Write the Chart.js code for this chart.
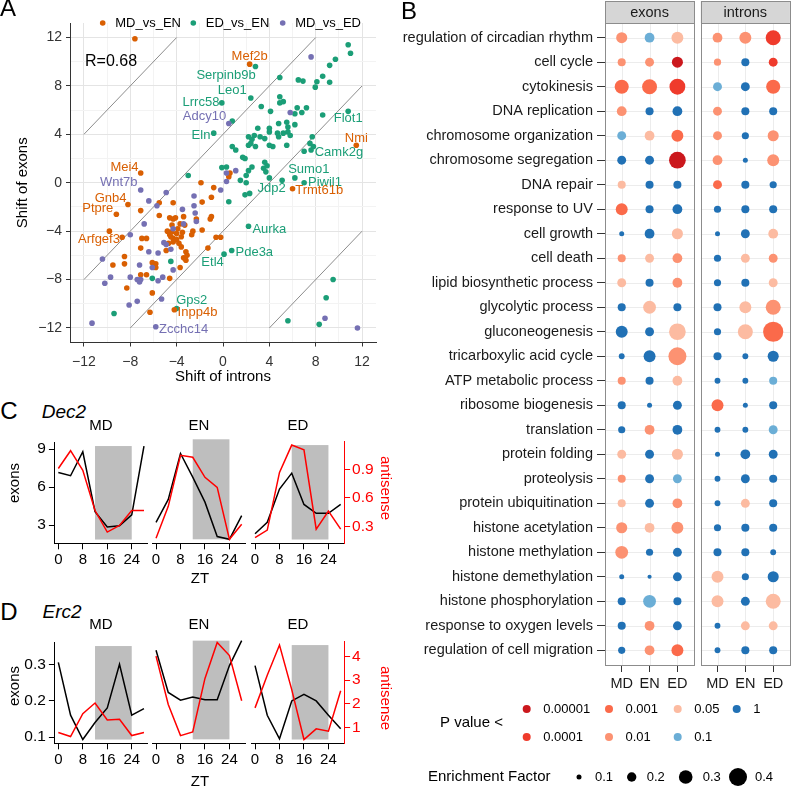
<!DOCTYPE html>
<html>
<head>
<meta charset="utf-8">
<script src="https://cdn.jsdelivr.net/npm/chart.js@4.4.1/dist/chart.umd.min.js"></script>
<style>
body { margin: 0; background: #fff; }
#page { position: relative; width: 800px; height: 788px; overflow: hidden; font-family: "Liberation Sans", Arial, Helvetica, sans-serif; }
canvas { position: absolute; }
.lbl { position: absolute; white-space: nowrap; line-height: 1; color: #000; }
</style>
</head>
<body>
<div id="page">
  <canvas id="scatterA" width="390" height="395" style="left:0;top:0"></canvas>
  <canvas id="dotB" width="420" height="788" style="left:380px;top:0"></canvas>
  <canvas id="cMD" width="395" height="145" style="left:0;top:430px"></canvas>
  <canvas id="cEN" width="395" height="145" style="left:0;top:430px"></canvas>
  <canvas id="cED" width="395" height="145" style="left:0;top:430px"></canvas>
  <canvas id="dMD" width="395" height="145" style="left:0;top:630px"></canvas>
  <canvas id="dEN" width="395" height="145" style="left:0;top:630px"></canvas>
  <canvas id="dED" width="395" height="145" style="left:0;top:630px"></canvas>
</div>
<script>
// ---------- panel A : shift of exons vs shift of introns ----------
const mdVsEn = [
  [-7.6,11.9],[2.3,9.8],[11.5,3.1],[-7.1,0.8],[6.0,-0.5],[0.6,0.8],[0.5,0.5],
  [-1.9,0.0],[-0.8,-0.4],[-1.0,-1.2],[-1.8,-1.6],[-4.3,-1.65],[-5.5,-1.65],[-8.2,-1.8],
  [-7.1,-2.3],[-9.2,-2.6],[-5.5,-2.7],[-4.6,-2.9],[-4.1,-2.9],[-4.3,-3.0],[-3.4,-2.8],
  [-2.3,-3.0],[-1.0,-2.8],[-1.1,-3.0],[-4.8,-4.0],[-4.4,-4.05],[-4.0,-4.2],[-4.3,-4.6],
  [-4.0,-4.7],[-3.6,-4.46],[-4.5,-4.46],[-4.3,-4.9],[-4.7,-5.0],[-3.8,-5.0],[-3.6,-5.3],
  [-2.6,-4.0],[-2.7,-4.3],[-3.7,-3.4],[-3.3,-3.5],[-4.4,-3.5],[-3.9,-3.8],[-4.6,-4.3],
  [-3.5,-4.1],[-1.8,-3.9],[-1.3,-5.4],[-0.6,-4.5],[-0.2,-4.5],[-7.0,-4.6],[-6.6,-4.6],
  [-8.7,-4.5],[-9.8,-4.0],[-7.1,-5.4],[-4.9,-5.6],[-3.2,-5.7],[-3.1,-6.0],[-3.4,-6.2],
  [-3.2,-6.4],[-8.5,-6.1],[-8.5,-6.7],[-9.5,-6.8],[-6.1,-6.6],[-5.8,-6.7],[-5.9,-6.9],
  [-5.8,-7.0],[-3.7,-7.0],[-4.6,-7.9],[-7.1,-7.6],[-6.6,-7.6],[-8.3,-8.7],[-6.1,-9.1],
  [-6.3,-10.7],[-4.2,-10.5]
];
const edVsEn = [
  [10.8,11.4],[11.0,10.7],[9.7,10.2],[9.2,9.7],[2.8,9.6],[4.9,8.7],[6.5,8.5],[6.9,8.4],
  [8.1,8.35],[8.6,8.8],[9.2,8.3],[7.96,7.9],[2.4,7.0],[4.9,7.1],[5.2,6.7],[4.9,6.6],
  [3.3,6.3],[4.1,5.9],[6.4,6.2],[7.2,6.2],[6.8,5.8],[6.2,5.7],[8.6,5.6],[10.8,5.9],
  [4.8,4.9],[4.0,4.5],[4.0,4.2],[3.0,4.5],[5.5,5.0],[5.6,4.6],[6.2,4.8],[2.7,3.9],
  [2.2,3.8],[2.5,3.6],[3.2,3.8],[3.6,3.65],[4.7,4.1],[5.2,4.1],[5.6,4.2],[5.8,3.9],
  [4.8,3.8],[2.4,3.25],[2.2,3.1],[4.0,3.1],[4.3,3.0],[0.8,3.0],[1.1,2.7],[2.8,3.0],
  [5.5,3.1],[7.7,3.8],[7.5,3.25],[7.8,3.0],[7.0,2.6],[7.6,2.7],[1.7,2.1],[1.9,2.0],
  [2.5,1.3],[2.2,1.0],[3.6,1.7],[3.8,1.4],[3.5,1.2],[3.7,0.9],[0.3,1.3],[2.0,0.6],
  [1.5,0.2],[2.0,0.0],[4.0,0.4],[5.1,0.2],[6.2,0.4],[7.0,0.0],[-3.0,0.6],[-0.1,6.6],
  [0.8,5.1],[-0.8,4.1],[-0.1,1.25],[1.9,-1.0],[2.3,-0.88],[0.5,-1.57],[2.2,-3.6],
  [0.75,-5.6],[0.09,-5.9],[-4.5,-6.5],[-6.1,-7.9],[-9.4,-10.8],[-4.0,-10.4],[9.5,-8.0],
  [8.9,-9.5],[5.6,-11.4],[8.3,-11.7]
];
const mdVsEd = [
  [7.6,10.4],[0.5,4.9],[5.8,5.8],[-7.1,-0.6],[-4.9,-0.8],[-6.4,-1.5],[-5.7,-1.9],
  [-2.5,-1.1],[-2.5,-1.9],[-2.4,-2.5],[-3.5,-2.2],[-2.3,-3.2],[-3.4,-3.4],[-4.3,-3.8],
  [-6.8,-3.4],[-8.0,-4.3],[-5.1,-4.95],[-4.9,-5.1],[-4.5,-5.5],[-5.6,-5.8],[-6.4,-5.7],
  [-7.2,-6.8],[-6.1,-7.0],[-10.4,-6.3],[-9.7,-7.8],[-10.2,-8.3],[-8.0,-7.8],[-7.4,-8.0],
  [-7.2,-8.2],[-7.1,-8.0],[-5.6,-8.1],[-5.2,-7.8],[-4.3,-7.2],[-7.4,-9.8],[-8.1,-10.1],
  [-5.3,-9.6],[-11.3,-11.6],[-5.8,-11.9],[8.8,-11.2],[11.6,-12.0],[-0.2,-0.6],[0.3,0.1],
  [0.3,0.8],[1.1,1.0]
];
// guide lines y = x + 16, x + 4, x - 4, x - 16
const refLines = [
  [[-12,4],[-4,12]],
  [[-12,-8],[8,12]],
  [[-8,-12],[12,8]],
  [[4,-12],[12,-4]]
];
const groupNames = ['MD_vs_EN', 'ED_vs_EN', 'MD_vs_ED'];
const groupColors = ['#d95f02', '#1b9e77', '#7570b3'];
const correlationR = '0.68';
// labelled genes: text centre in data units, group index
const geneNames  = ['Mef2b','Serpinb9b','Leo1','Lrrc58','Adcy10','Eln','Flot1','Nmi','Camk2g','Sumo1','Piwil1','Jdp2','Trmt61b','Mei4','Wnt7b','Gnb4','Ptpre','Arfgef3','Aurka','Pde3a','Etl4','Gps2','Inpp4b','Zcchc14'];
const geneGroup  = [0,1,1,1,2,1,1,0,1,1,1,1,0,0,2,0,0,0,1,1,1,1,0,2];
const geneLabelX = [2.3,0.26,0.8,-1.9,-1.6,-1.9,10.8,11.5,10.0,7.4,8.8,4.2,8.3,-8.5,-9.0,-9.7,-10.8,-10.7,4.0,2.7,-0.9,-2.7,-2.2,-3.4];
const geneLabelY = [10.4,8.9,7.6,6.6,5.45,3.9,5.3,3.7,2.5,1.1,0.03,-0.46,-0.6,1.3,0.0,-1.3,-2.1,-4.65,-3.85,-5.75,-6.6,-9.75,-10.7,-12.1];

// ---------- panel B : GO enrichment ----------
const goTerms = ['regulation of circadian rhythm','cell cycle','cytokinesis','DNA replication','chromosome organization','chromosome segregation','DNA repair','response to UV','cell growth','cell death','lipid biosynthetic process','glycolytic process','gluconeogenesis','tricarboxylic acid cycle','ATP metabolic process','ribosome biogenesis','translation','protein folding','proteolysis','protein ubiquitination','histone acetylation','histone methylation','histone demethylation','histone phosphorylation','response to oxygen levels','regulation of cell migration'];
const conditions = ['MD', 'EN', 'ED'];
const facetNames = ['exons', 'introns'];
const pBreaks = ['0.00001', '0.0001', '0.001', '0.01', '0.05', '0.1', '1'];
const pColors = ['#cb181d', '#ef3b2c', '#fb6a4a', '#fc9272', '#fcbba1', '#6baed6', '#2171b5'];
const efBreaks = [0.1, 0.2, 0.3, 0.4];
// columns: exons MD, EN, ED, introns MD, EN, ED ; value = index into pBreaks
const pLevel = [
  [3,5,4,3,3,1],[3,3,0,3,6,1],[2,2,1,5,6,2],[3,6,6,3,6,6],[5,4,2,3,6,3],
  [6,6,0,3,6,3],[4,6,6,2,6,6],[2,6,6,6,6,6],[6,6,4,6,6,4],[3,4,3,6,4,3],
  [4,6,3,6,6,4],[6,4,6,6,4,3],[6,6,4,6,4,2],[6,6,3,6,6,6],[3,6,4,6,6,5],
  [6,6,6,2,6,6],[6,3,6,6,6,5],[4,6,4,6,6,6],[3,6,5,6,6,6],[4,6,3,6,4,6],
  [3,4,3,6,6,6],[3,6,6,6,6,6],[6,6,6,4,6,6],[6,5,6,4,6,4],[6,3,6,6,4,4],
  [6,3,2,6,6,6]
];
const enrichment = [
  [0.24,0.21,0.26,0.21,0.26,0.33],[0.17,0.19,0.24,0.15,0.17,0.19],[0.31,0.33,0.35,0.19,0.19,0.31],
  [0.21,0.17,0.21,0.19,0.17,0.17],[0.19,0.21,0.26,0.19,0.15,0.24],[0.19,0.19,0.37,0.21,0.10,0.26],
  [0.17,0.17,0.17,0.19,0.17,0.15],[0.26,0.17,0.21,0.15,0.17,0.17],[0.10,0.21,0.24,0.10,0.19,0.21],
  [0.17,0.19,0.21,0.15,0.19,0.19],[0.19,0.17,0.21,0.15,0.17,0.19],[0.17,0.28,0.17,0.17,0.26,0.33],
  [0.26,0.19,0.37,0.15,0.33,0.45],[0.12,0.26,0.40,0.17,0.12,0.24],[0.17,0.17,0.21,0.12,0.12,0.17],
  [0.17,0.10,0.19,0.26,0.10,0.17],[0.15,0.21,0.21,0.12,0.12,0.19],[0.19,0.19,0.24,0.10,0.21,0.19],
  [0.17,0.19,0.19,0.12,0.19,0.17],[0.17,0.19,0.21,0.12,0.19,0.17],[0.24,0.21,0.26,0.15,0.17,0.17],
  [0.28,0.15,0.19,0.17,0.17,0.12],[0.10,0.08,0.19,0.26,0.15,0.24],[0.17,0.28,0.17,0.26,0.19,0.33],
  [0.17,0.21,0.19,0.12,0.19,0.19],[0.15,0.21,0.26,0.12,0.17,0.17]
];

// ---------- panels C and D : time courses ----------
const zt = [0, 4, 8, 12, 16, 20, 24, 28];
const ztTicks = [0, 8, 16, 24];
const nightStart = 12, nightEnd = 24;
const dec2ExonsMD = [7.15, 6.9, 8.8, 4.05, 2.85, 2.95, 3.8, 9.25];
const dec2ExonsEN = [3.1, 4.8, 8.2, 6.45, 4.6, 2.05, 1.85, 3.6];
const dec2ExonsED = [2.3, 3.2, 5.8, 7.05, 4.6, 3.9, 3.9, 4.6];
const dec2AntisenseMD = [0.92, 1.11, 0.9, 0.47, 0.24, 0.31, 0.47, 0.47];
const dec2AntisenseEN = [0.17, 0.49, 1.0, 0.98, 0.78, 0.68, 0.16, 0.31];
const dec2AntisenseED = [0.18, 0.26, 0.87, 1.16, 1.11, 0.27, 0.46, 0.27];
const dec2ExonTicks = [3, 6, 9];
const dec2AntisenseTicks = [0.3, 0.6, 0.9];
const erc2ExonsMD = [0.305, 0.16, 0.093, 0.14, 0.18, 0.3, 0.16, 0.178];
const erc2ExonsEN = [0.325, 0.215, 0.195, 0.203, 0.196, 0.196, 0.285, 0.35];
const erc2ExonsED = [0.294, 0.159, 0.095, 0.198, 0.216, 0.198, 0.159, 0.122];
const erc2AntisenseMD = [0.8, 0.63, 1.6, 2.05, 1.33, 1.36, 0.67, 0.8];
const erc2AntisenseEN = [3.85, 1.9, 0.65, 0.8, 2.95, 4.4, 3.87, 2.05];
const erc2AntisenseED = [1.83, 3.2, 4.47, 2.6, 0.5, 0.95, 0.85, 2.55];
const erc2ExonTicks = [0.1, 0.2, 0.3];
const erc2AntisenseTicks = [1, 2, 3, 4];

// ---------- common ----------
const FONT = '"Liberation Sans", Arial, Helvetica, sans-serif';
Chart.defaults.font.family = FONT;
Chart.defaults.color = '#000';
Chart.defaults.animation = false;
Chart.defaults.responsive = false;
Chart.defaults.plugins.legend.display = false;
Chart.defaults.plugins.tooltip.enabled = false;
Chart.defaults.events = [];

const page = document.getElementById('page');
function addText(txt, x, y, o = {}) {
  const d = document.createElement('div');
  d.className = 'lbl';
  d.textContent = txt;
  d.style.left = x + 'px';
  d.style.top = y + 'px';
  d.style.fontSize = (o.size || 15) + 'px';
  if (o.color) d.style.color = o.color;
  if (o.italic) d.style.fontStyle = 'italic';
  d.style.transform = 'translate(-50%,-50%)' + (o.rotate ? ' rotate(' + o.rotate + 'deg)' : '');
  page.appendChild(d);
}
const toXY = arr => arr.map(p => ({ x: p[0], y: p[1] }));
const fmtMinus = v => (v < 0 ? '\u2212' + Math.abs(v) : String(v));

// ---------- chart A ----------
const scatterDecor = {
  id: 'scatterDecor',
  afterDatasetsDraw(chart) {
    const { ctx, scales: { x, y } } = chart;
    ctx.save();
    ctx.textAlign = 'center';
    ctx.textBaseline = 'middle';
    ctx.font = '13px ' + FONT;
    geneNames.forEach((g, i) => {
      ctx.fillStyle = groupColors[geneGroup[i]];
      ctx.fillText(g, x.getPixelForValue(geneLabelX[i]), y.getPixelForValue(geneLabelY[i]));
    });
    ctx.fillStyle = '#000';
    ctx.font = '16px ' + FONT;
    ctx.textAlign = 'left';
    ctx.fillText('R=' + correlationR, 85, 62);
    // legend
    const dotX = [102.7, 193.3, 282.7];
    ctx.font = '13px ' + FONT;
    groupNames.forEach((g, i) => {
      ctx.fillStyle = groupColors[i];
      ctx.beginPath();
      ctx.arc(dotX[i], 23, 2.8, 0, Math.PI * 2);
      ctx.fill();
      ctx.fillStyle = '#000';
      ctx.fillText(g, dotX[i] + 12.5, 23);
    });
    ctx.restore();
  }
};
const gridA = c => (c.tick && c.tick.value % 4 === 0 ? '#e4e4e4' : '#f3f3f3');
const tickA = c => (c.tick && c.tick.value % 4 === 0 ? '#333' : 'rgba(0,0,0,0)');
new Chart(document.getElementById('scatterA'), {
  type: 'scatter',
  data: {
    datasets: [
      ...refLines.map(l => ({ data: toXY(l), showLine: true, borderColor: '#8c8c8c', borderWidth: 1, pointRadius: 0, order: 10 })),
      { data: toXY(edVsEn), backgroundColor: groupColors[1], pointRadius: 2.8, borderWidth: 0, order: 3 },
      { data: toXY(mdVsEn), backgroundColor: groupColors[0], pointRadius: 2.8, borderWidth: 0, order: 2 },
      { data: toXY(mdVsEd), backgroundColor: groupColors[2], pointRadius: 2.8, borderWidth: 0, order: 1 }
    ]
  },
  options: {
    layout: { padding: { top: 23, right: 14, left: 0, bottom: 0 } },
    scales: {
      x: {
        type: 'linear', min: -13.2, max: 13.2,
        ticks: { stepSize: 2, includeBounds: false, autoSkip: false, maxRotation: 0, padding: 7, color: '#333', font: { size: 14 },
          callback: v => (v % 4 === 0 ? fmtMinus(v) : '') },
        grid: { color: gridA, tickColor: tickA, tickLength: 4 },
        border: { color: '#333', width: 1 },
        title: { display: true, text: 'Shift of introns', font: { size: 15 }, padding: { top: 0, bottom: 9 } },
        afterFit: s => { s.height = 52.5; }
      },
      y: {
        type: 'linear', min: -13.2, max: 13.2,
        ticks: { stepSize: 2, includeBounds: false, autoSkip: false, padding: 4, color: '#333', font: { size: 14 },
          callback: v => (v % 4 === 0 ? fmtMinus(v) : '') },
        grid: { color: gridA, tickColor: tickA, tickLength: 4 },
        border: { color: '#333', width: 1 },
        title: { display: true, text: 'Shift of exons', font: { size: 15 }, padding: { top: 14, bottom: 0 } },
        afterFit: s => { s.width = 70; }
      }
    }
  },
  plugins: [scatterDecor]
});

// ---------- chart B ----------
const facetOffset = 3.44;   // x units between facets (panel width 3.2 + gap)
const efRadius = ef => Math.max(1.8, 2.5 + (ef - 0.1) * 21.7);
const bubbles = [];
const bubbleColors = [];
goTerms.forEach((term, i) => {
  for (let j = 0; j < 6; j++) {
    const f = Math.floor(j / 3), c = j % 3;
    bubbles.push({ x: c + f * facetOffset, y: i, r: efRadius(enrichment[i][j]) });
    bubbleColors.push(pColors[pLevel[i][j]]);
  }
});
const facetDecor = {
  id: 'facetDecor',
  beforeDatasetsDraw(chart) {
    const { ctx, chartArea: a, scales: { x, y } } = chart;
    ctx.save();
    facetNames.forEach((name, f) => {
      const l = x.getPixelForValue(-0.6 + f * facetOffset);
      const r = x.getPixelForValue(2.6 + f * facetOffset);
      ctx.fillStyle = '#fff';
      ctx.fillRect(l, a.top, r - l, a.bottom - a.top);
      ctx.strokeStyle = '#ececec';
      ctx.lineWidth = 1;
      ctx.beginPath();
      for (let c = 0; c < 3; c++) {
        const px = Math.round(x.getPixelForValue(c + f * facetOffset)) + 0.5;
        ctx.moveTo(px, a.top); ctx.lineTo(px, a.bottom);
      }
      goTerms.forEach((t, i) => {
        const py = Math.round(y.getPixelForValue(i)) + 0.5;
        ctx.moveTo(l, py); ctx.lineTo(r, py);
      });
      ctx.stroke();
      ctx.strokeStyle = '#8c8c8c';
      ctx.strokeRect(Math.round(l) + 0.5, Math.round(a.top) + 0.5, Math.round(r - l), Math.round(a.bottom - a.top));
      // strip
      ctx.fillStyle = '#d6d6d6';
      ctx.fillRect(l, 1, r - l, a.top - 1);
      ctx.strokeRect(Math.round(l) + 0.5, 1.5, Math.round(r - l), Math.round(a.top) - 1);
      ctx.fillStyle = '#1a1a1a';
      ctx.font = '14.5px ' + FONT;
      ctx.textAlign = 'center';
      ctx.textBaseline = 'middle';
      ctx.fillText(name, (l + r) / 2, a.top / 2 + 1);
    });
    ctx.restore();
  },
  afterDraw(chart) {
    const { ctx } = chart;
    const ox = 380;
    ctx.save();
    ctx.textBaseline = 'middle';
    ctx.textAlign = 'left';
    ctx.fillStyle = '#000';
    ctx.font = '15px ' + FONT;
    ctx.fillText('P value <', 440 - ox, 723);
    ctx.fillText('Enrichment Factor', 428 - ox, 777);
    const colX = [526.7, 609, 677.7, 736.7];
    ctx.font = '13px ' + FONT;
    pBreaks.forEach((p, k) => {
      const col = Math.floor(k / 2), row = k % 2;
      const cx = colX[col] - ox, cy = row === 0 ? 709 : 737;
      ctx.fillStyle = pColors[k];
      ctx.beginPath(); ctx.arc(cx, cy, 4, 0, Math.PI * 2); ctx.fill();
      ctx.fillStyle = '#000';
      ctx.fillText(p, cx + 16.5, cy);
    });
    const efX = [579, 631.7, 685.7, 738];
    efBreaks.forEach((ef, k) => {
      const cx = efX[k] - ox;
      ctx.fillStyle = '#000';
      ctx.beginPath(); ctx.arc(cx, 777, efRadius(ef), 0, Math.PI * 2); ctx.fill();
      ctx.fillText(String(ef), cx + (k === 0 ? 16 : k === 1 ? 15 : 17), 777);
    });
    ctx.restore();
  }
};
new Chart(document.getElementById('dotB'), {
  type: 'bubble',
  data: { datasets: [{ data: bubbles, backgroundColor: bubbleColors, borderWidth: 0 }] },
  options: {
    layout: { padding: { top: 23, right: 2, left: 0, bottom: 0 } },
    scales: {
      x: {
        type: 'linear', min: -0.6, max: 2.6 + 0.24 + 3.2,
        afterBuildTicks: s => { s.ticks = [0, 1, 2, facetOffset, facetOffset + 1, facetOffset + 2].map(v => ({ value: v })); },
        ticks: { autoSkip: false, maxRotation: 0, padding: 3, color: '#1a1a1a', font: { size: 14.5 },
          callback: (v, i) => conditions[i % 3] },
        grid: { drawOnChartArea: false, tickLength: 7, tickColor: '#333' },
        border: { display: false },
        afterFit: s => { s.height = 123; }
      },
      y: {
        type: 'linear', min: -0.6, max: goTerms.length - 0.4, reverse: true,
        afterBuildTicks: s => { s.ticks = goTerms.map((t, i) => ({ value: i })); },
        ticks: { autoSkip: false, padding: 4, color: '#1a1a1a', font: { size: 14.5 },
          callback: v => goTerms[v] },
        grid: { drawOnChartArea: false, tickLength: 8, tickColor: '#333' },
        border: { display: false },
        afterFit: s => { s.width = 225; }
      }
    }
  },
  plugins: [facetDecor]
});

// ---------- charts C and D ----------
const facetLeft = [54.9, 152.6, 251.6];
const facetWidth = 92.5;
const canvasW = 395;
function padRange(arrs) {
  const all = [].concat(...arrs);
  const lo = Math.min(...all), hi = Math.max(...all);
  const p = (hi - lo) * 0.04;
  return { lo, hi, min: lo - p, max: hi + p };
}
const xPad = (zt[zt.length - 1] - zt[0]) * 0.04;
function timeCourse(id, k, exons, antisense, row) {
  const nightBox = {
    id: 'nightBox',
    beforeDatasetsDraw(chart) {
      const { ctx, scales: { x, y } } = chart;
      ctx.save();
      ctx.fillStyle = '#bebebe';
      const l = x.getPixelForValue(nightStart), r = x.getPixelForValue(nightEnd);
      const t = y.getPixelForValue(row.exonRange.hi), b = y.getPixelForValue(row.exonRange.lo);
      ctx.fillRect(l, t, r - l, b - t);
      ctx.restore();
    }
  };
  const setTicks = arr => s => { s.ticks = arr.map(v => ({ value: v })); };
  new Chart(document.getElementById(id), {
    type: 'line',
    data: {
      labels: zt,
      datasets: [
        { data: zt.map((t, i) => ({ x: t, y: antisense[i] })), yAxisID: 'y2', borderColor: '#ff0000', borderWidth: 1.5, pointRadius: 0, tension: 0 },
        { data: zt.map((t, i) => ({ x: t, y: exons[i] })), yAxisID: 'y', borderColor: '#000', borderWidth: 1.5, pointRadius: 0, tension: 0 }
      ]
    },
    options: {
      layout: { padding: {
        top: row.areaTop - row.canvasTop,
        left: k === 0 ? 0 : facetLeft[k],
        right: k === 2 ? 0 : canvasW - facetLeft[k] - facetWidth,
        bottom: 0 } },
      scales: {
        x: {
          type: 'linear', min: zt[0] - xPad, max: zt[zt.length - 1] + xPad,
          afterBuildTicks: setTicks(ztTicks),
          ticks: { autoSkip: false, maxRotation: 0, padding: 2, color: '#000', font: { size: 15 } },
          grid: { drawOnChartArea: false, tickLength: 6, tickColor: '#000' },
          border: { color: '#000', width: 1 },
          afterFit: s => { s.height = row.canvasTop + row.canvasH - row.areaBottom; }
        },
        y: {
          type: 'linear', position: 'left', display: k === 0,
          min: row.exonRange.min, max: row.exonRange.max,
          afterBuildTicks: setTicks(row.exonTicks),
          ticks: { autoSkip: false, padding: 3, color: '#000', font: { size: 15.5 }, callback: v => String(v) },
          grid: { drawOnChartArea: false, tickLength: 6, tickColor: '#000' },
          border: { color: '#000', width: 1 },
          afterFit: s => { if (k === 0) s.width = facetLeft[0]; }
        },
        y2: {
          type: 'linear', position: 'right', display: k === 2,
          min: row.asRange.min, max: row.asRange.max,
          afterBuildTicks: setTicks(row.asTicks),
          ticks: { autoSkip: false, padding: 2, color: '#ff0000', font: { size: 15.5 }, callback: v => String(v) },
          grid: { drawOnChartArea: false, tickLength: 6, tickColor: '#ff0000' },
          border: { color: '#ff0000', width: 1 },
          afterFit: s => { if (k === 2) s.width = canvasW - facetLeft[2] - facetWidth; }
        }
      }
    },
    plugins: [nightBox]
  });
}
const rowC = {
  canvasTop: 430, canvasH: 145, areaTop: 435.3, areaBottom: 543.3,
  exonRange: padRange([dec2ExonsMD, dec2ExonsEN, dec2ExonsED]),
  asRange: padRange([dec2AntisenseMD, dec2AntisenseEN, dec2AntisenseED]),
  exonTicks: dec2ExonTicks, asTicks: dec2AntisenseTicks
};
const rowD = {
  canvasTop: 630, canvasH: 145, areaTop: 636.7, areaBottom: 743.3,
  exonRange: padRange([erc2ExonsMD, erc2ExonsEN, erc2ExonsED]),
  asRange: padRange([erc2AntisenseMD, erc2AntisenseEN, erc2AntisenseED]),
  exonTicks: erc2ExonTicks, asTicks: erc2AntisenseTicks
};
timeCourse('cMD', 0, dec2ExonsMD, dec2AntisenseMD, rowC);
timeCourse('cEN', 1, dec2ExonsEN, dec2AntisenseEN, rowC);
timeCourse('cED', 2, dec2ExonsED, dec2AntisenseED, rowC);
timeCourse('dMD', 0, erc2ExonsMD, erc2AntisenseMD, rowD);
timeCourse('dEN', 1, erc2ExonsEN, erc2AntisenseEN, rowD);
timeCourse('dED', 2, erc2ExonsED, erc2AntisenseED, rowD);

// ---------- static labels ----------
addText('A', 8, 8, { size: 24 });
addText('B', 409, 11, { size: 24 });
addText('C', 9, 411, { size: 24 });
addText('Dec2', 64, 411, { size: 19, italic: true });
addText('D', 9, 612, { size: 24 });
addText('Erc2', 62, 611, { size: 19, italic: true });
const facetCentres = [101, 199, 298];
conditions.forEach((c, i) => {
  addText(c, facetCentres[i], 424);
  addText(c, facetCentres[i], 623);
});
addText('exons', 13, 483, { rotate: -90 });
addText('exons', 13, 686, { rotate: -90 });
addText('antisense', 386, 488, { rotate: 90, color: '#ff0000' });
addText('antisense', 386, 698, { rotate: 90, color: '#ff0000' });
addText('ZT', 200, 577);
addText('ZT', 200, 780);
</script>
</body>
</html>
